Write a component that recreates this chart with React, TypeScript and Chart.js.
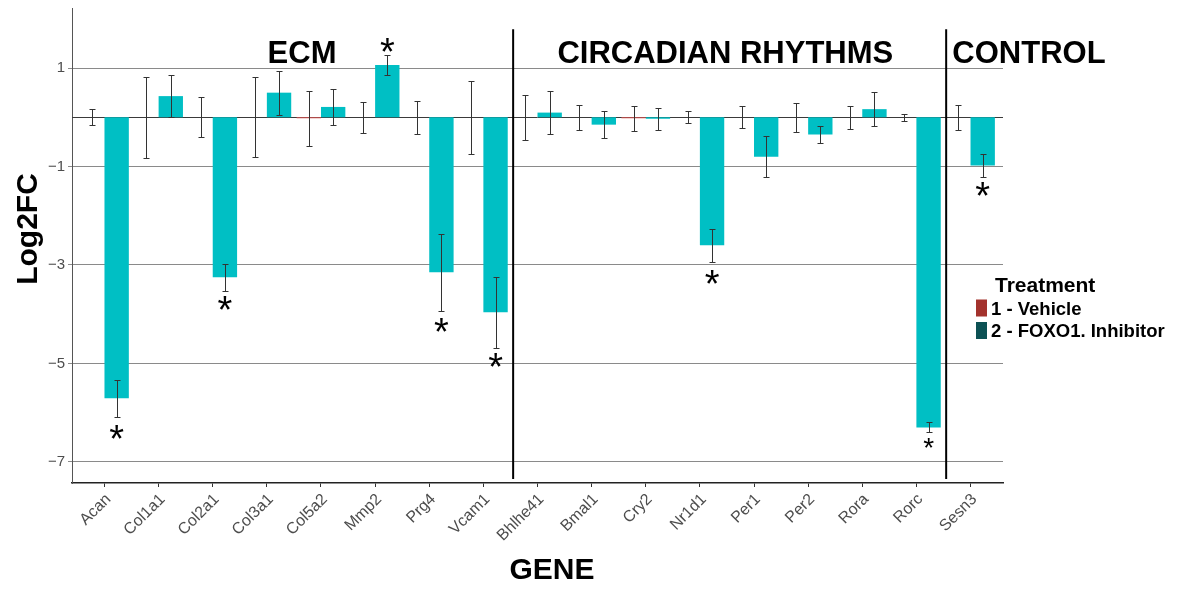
import React, { useEffect, useRef } from 'react';
import { Chart, registerables } from 'chart.js';
Chart.register(...registerables);

const genes = ['Acan', 'Col1a1', 'Col2a1', 'Col3a1', 'Col5a2', 'Mmp2', 'Prg4', 'Vcam1', 'Bhlhe41', 'Bmal1', 'Cry2', 'Nr1d1', 'Per1', 'Per2', 'Rora', 'Rorc', 'Sesn3'];
const vehicleLog2FC = [0, 0, 0, 0, -0.02, 0, 0, 0, 0, 0, -0.02, 0, 0, 0, 0, 0, 0];
const vehicleErr = [0.16, 0.82, 0.41, 0.81, 0.56, 0.32, 0.34, 0.74, 0.46, 0.25, 0.25, 0.12, 0.22, 0.3, 0.23, 0.07, 0.25];
const inhibitorLog2FC = [-5.71, 0.43, -3.25, 0.5, 0.21, 1.06, -3.15, -3.96, 0.095, -0.15, -0.03, -2.6, -0.8, -0.35, 0.165, -6.3, -0.98];
const inhibitorErr = [0.38, 0.42, 0.27, 0.45, 0.37, 0.21, 0.78, 0.72, 0.44, 0.28, 0.22, 0.34, 0.42, 0.18, 0.35, 0.1, 0.24];

const sigIndex = [0, 2, 5, 6, 7, 11, 15, 16];
const sigStarY = [-6.4, -3.78, 1.46, -4.23, -4.94, -3.25, -6.62, -1.46];
const sigStarSize = [38, 38, 38, 38, 38, 38, 28, 38];

const sectionLabels = ['ECM', 'CIRCADIAN RHYTHMS', 'CONTROL'];
const sectionX = [3.65, 11.47, 17.08];
const sectionBaselineY = 1.1;
const dividerX = [7.55, 15.55];
const dividerTop = 1.79;
const dividerBottom = -7.35;

const yTickValues = [1, -1, -3, -5, -7];
const treatmentLabels = ['1 - Vehicle', '2 - FOXO1. Inhibitor'];
const legendColors = ['#A3322D', '#0C5154'];
const barColors = ['#D9534F', '#00BFC4'];

const FONT = '"Liberation Sans", Arial, Helvetica, sans-serif';

export default function App() {
  const ref = useRef<HTMLCanvasElement>(null);

  useEffect(() => {
    const canvas = ref.current!;
    const overlay = {
      id: 'overlay',
      beforeDatasetsDraw(chart: any) {
        const { ctx, chartArea, scales } = chart;
        const y0 = Math.round(scales.y.getPixelForValue(0)) + 0.5;
        ctx.save();
        ctx.strokeStyle = '#3a3a3a';
        ctx.lineWidth = 1;
        ctx.beginPath();
        ctx.moveTo(chartArea.left, y0);
        ctx.lineTo(chartArea.right, y0);
        ctx.stroke();
        ctx.restore();
      },
      afterDraw(chart: any) {
        const { ctx, scales } = chart;
        const x = scales.x;
        const y = scales.y;
        ctx.save();
        // error bars
        const vals = [vehicleLog2FC, inhibitorLog2FC];
        const errs = [vehicleErr, inhibitorErr];
        ctx.strokeStyle = '#333333';
        ctx.lineWidth = 1;
        for (let d = 0; d < 2; d++) {
          const meta = chart.getDatasetMeta(d);
          meta.data.forEach((el: any, i: number) => {
            const cx = Math.round(el.x) + 0.5;
            const top = Math.round(y.getPixelForValue(vals[d][i] + errs[d][i])) + 0.5;
            const bot = Math.round(y.getPixelForValue(vals[d][i] - errs[d][i])) + 0.5;
            ctx.beginPath();
            ctx.moveTo(cx, top);
            ctx.lineTo(cx, bot);
            ctx.moveTo(cx - 3, top);
            ctx.lineTo(cx + 3, top);
            ctx.moveTo(cx - 3, bot);
            ctx.lineTo(cx + 3, bot);
            ctx.stroke();
          });
        }
        // dividers
        ctx.strokeStyle = '#000';
        ctx.lineWidth = 2;
        dividerX.forEach((dx) => {
          const px = x.getPixelForValue(dx);
          ctx.beginPath();
          ctx.moveTo(px, y.getPixelForValue(dividerTop));
          ctx.lineTo(px, y.getPixelForValue(dividerBottom));
          ctx.stroke();
        });
        // section labels
        ctx.fillStyle = '#000';
        ctx.font = `bold 31px ${FONT}`;
        ctx.textAlign = 'center';
        ctx.textBaseline = 'alphabetic';
        sectionLabels.forEach((s, i) => {
          ctx.fillText(s, x.getPixelForValue(sectionX[i]), y.getPixelForValue(sectionBaselineY));
        });
        // significance stars
        const meta1 = chart.getDatasetMeta(1);
        sigIndex.forEach((gi, k) => {
          ctx.font = `${sigStarSize[k]}px ${FONT}`;
          const m = ctx.measureText('*');
          const off = (m.actualBoundingBoxAscent - m.actualBoundingBoxDescent) / 2;
          ctx.fillText('*', meta1.data[gi].x, y.getPixelForValue(sigStarY[k]) + off);
        });
        // axis titles
        ctx.font = `bold 30px ${FONT}`;
        ctx.fillText('GENE', 552, 579);
        ctx.save();
        ctx.translate(36.5, 229);
        ctx.rotate(-Math.PI / 2);
        ctx.fillText('Log2FC', 0, 0);
        ctx.restore();
        // legend
        ctx.textAlign = 'left';
        ctx.font = `bold 21px ${FONT}`;
        ctx.fillText('Treatment', 995, 291.5);
        ctx.font = `bold 18.5px ${FONT}`;
        treatmentLabels.forEach((t, i) => {
          ctx.fillStyle = legendColors[i];
          ctx.fillRect(976, 299.5 + i * 22.5, 11, 17);
          ctx.fillStyle = '#000';
          ctx.fillText(t, 991, 314.5 + i * 22);
        });
        ctx.restore();
      },
    };

    const chart = new Chart(canvas, {
      type: 'bar',
      data: {
        datasets: [
          {
            label: treatmentLabels[0],
            data: genes.map((_, i) => ({ x: i, y: vehicleLog2FC[i] })),
            backgroundColor: barColors[0],
            categoryPercentage: 0.9,
            barPercentage: 1.0,
          },
          {
            label: treatmentLabels[1],
            data: genes.map((_, i) => ({ x: i, y: inhibitorLog2FC[i] })),
            backgroundColor: barColors[1],
            categoryPercentage: 0.9,
            barPercentage: 1.0,
          },
        ],
      },
      options: {
        responsive: false,
        animation: false,
        devicePixelRatio: 1,
        layout: { padding: { top: 8, right: 178, left: 0, bottom: 0 } },
        plugins: { legend: { display: false }, tooltip: { enabled: false } },
        scales: {
          x: {
            type: 'linear',
            offset: false,
            min: -0.6,
            max: 16.6,
            afterBuildTicks: (s: any) => {
              s.ticks = genes.map((_, i) => ({ value: i }));
            },
            afterFit: (s: any) => {
              s.height = 106;
              s.paddingLeft = 0;
              s.paddingRight = 0;
            },
            ticks: {
              autoSkip: false,
              minRotation: 45,
              maxRotation: 45,
              padding: 3,
              labelOffset: 4,
              color: '#4D4D4D',
              font: { family: FONT, size: 16 },
              callback: (v: any) => genes[Math.round(v)] ?? '',
            },
            grid: { display: true, offset: false, drawOnChartArea: false, drawTicks: true, tickLength: 4, color: '#333333' },
            border: { display: true, color: '#222222', width: 1.5 },
          },
          y: {
            type: 'linear',
            min: -7.43,
            max: 2.22,
            afterBuildTicks: (s: any) => {
              s.ticks = yTickValues.map((v) => ({ value: v }));
            },
            afterFit: (s: any) => {
              s.width = 72;
              s.paddingTop = 0;
              s.paddingBottom = 0;
            },
            ticks: {
              padding: 3,
              color: '#4D4D4D',
              font: { family: FONT, size: 15 },
              callback: (v: any) => (v < 0 ? '\u2212' + Math.abs(v) : String(v)),
            },
            grid: { display: true, drawOnChartArea: true, drawTicks: true, tickLength: 4, color: '#8a8a8a' },
            border: { display: true, color: '#555555', width: 1 },
          },
        },
      },
      plugins: [overlay],
    } as any);
    return () => chart.destroy();
  }, []);

  return (
    <div style={{ position: 'fixed', left: 0, top: 0, width: 1181, height: 589, background: '#fff' }}>
      <canvas ref={ref} width={1181} height={589} style={{ display: 'block' }} />
    </div>
  );
}
